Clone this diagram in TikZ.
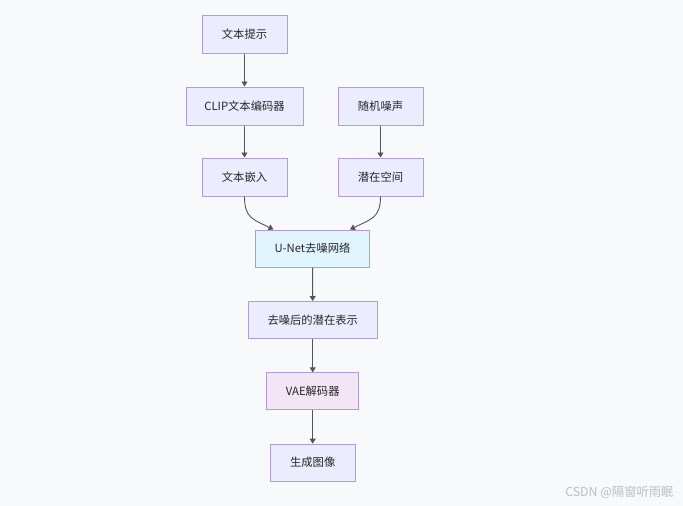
\documentclass[tikz,border=0pt]{standalone}
\usepackage{fontspec}
\setmainfont{Noto Sans CJK SC}
\usetikzlibrary{arrows.meta}
\definecolor{bg}{HTML}{F8F9FB}
\definecolor{nfill}{HTML}{ECECFF}
\definecolor{nstroke}{HTML}{B09CDD}
\definecolor{ufill}{HTML}{E1F5FE}
\definecolor{vfill}{HTML}{F3E5F5}
\definecolor{lnk}{HTML}{555555}
\definecolor{wm}{HTML}{BDBDBD}
\tikzset{
  box/.style={draw=nstroke, line width=1pt, fill=nfill, inner sep=0pt, font=\fontsize{11.3}{13}\selectfont, text=black!85},
  link/.style={draw=lnk, line width=0.9pt, -{Triangle[length=5pt,width=6pt]}}
}
\begin{document}
\begin{tikzpicture}[x=1pt,y=-1pt]
\path[fill=bg] (0,0) rectangle (683,506);
\useasboundingbox (0,0) rectangle (683,506);
\node[box, minimum width=85pt, minimum height=38pt] (prompt) at (244.5,34) {文本提示};
\node[box, minimum width=117pt, minimum height=38pt] (clip) at (244.5,106) {CLIP文本编码器};
\node[box, minimum width=85pt, minimum height=38pt] (noise) at (380.5,106) {随机噪声};
\node[box, minimum width=85pt, minimum height=38pt] (emb) at (244.5,177) {文本嵌入};
\node[box, minimum width=85pt, minimum height=38pt] (latent) at (380.5,177) {潜在空间};
\node[box, fill=ufill, minimum width=114pt, minimum height=37pt] (unet) at (312.5,248.5) {U-Net去噪网络};
\node[box, minimum width=129pt, minimum height=37pt] (den) at (312.7,320) {去噪后的潜在表示};
\node[box, fill=vfill, minimum width=92pt, minimum height=37pt] (vae) at (312.7,391.3) {VAE解码器};
\node[box, minimum width=85pt, minimum height=37pt] (img) at (312.7,462.7) {生成图像};
\node[text=wm, font=\fontsize{12.3}{14}\selectfont, anchor=east] (wmk) at (677,492) {CSDN @隔窗听雨眠};
\draw[link] (prompt) -- (clip);
\draw[link] (clip) -- (emb);
\draw[link] (noise) -- (latent);
\coordinate (ua) at ([xshift=-39pt]unet.north);
\coordinate (ub) at ([xshift=37.5pt]unet.north);
\draw[link] (emb.south) .. controls ++(0,22) and ++(-20,-10) .. (ua);
\draw[link] (latent.south) .. controls ++(0,22) and ++(20,-10) .. (ub);
\draw[link] (unet) -- (den);
\draw[link] (den) -- (vae);
\draw[link] (vae) -- (img);
\end{tikzpicture}
\end{document}
